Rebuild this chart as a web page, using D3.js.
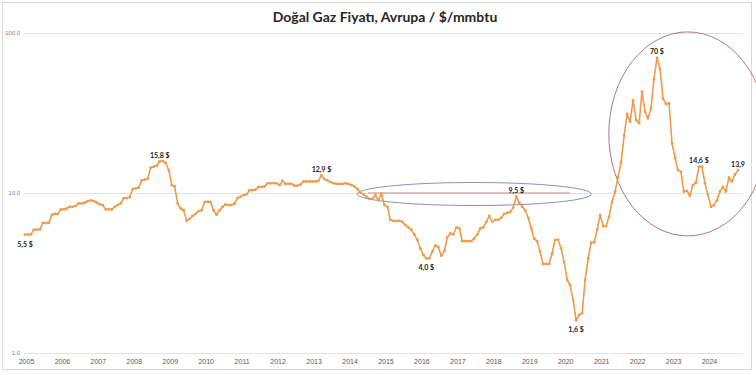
<!DOCTYPE html>
<html>
<head>
<meta charset="utf-8">
<script src="https://cdn.jsdelivr.net/npm/d3@7"></script>
<style>
  body { margin: 0; background: #fff; }
  svg { display: block; font-family: Lato, 'Open Sans', sans-serif; }
</style>
</head>
<body>
<svg width="756" height="375"></svg>
<script>
// monthly Europe natural gas price, $/mmbtu, Jan 2005 .. Nov 2024
const years = [2005, 2006, 2007, 2008, 2009, 2010, 2011, 2012, 2013, 2014,
               2015, 2016, 2017, 2018, 2019, 2020, 2021, 2022, 2023, 2024];
const prices = [
  [5.5, 5.5, 5.5, 5.9, 5.9, 5.9, 6.5, 6.5, 6.5, 7.3, 7.4, 7.4],
  [7.9, 7.9, 8.0, 8.2, 8.2, 8.3, 8.6, 8.6, 8.7, 8.9, 9.0, 8.9],
  [8.7, 8.5, 8.4, 7.9, 7.9, 7.9, 8.2, 8.4, 8.6, 9.3, 9.3, 9.4],
  [10.6, 10.7, 10.8, 12.0, 12.1, 12.3, 14.4, 14.6, 14.8, 15.8, 15.8, 15.4],
  [13.9, 11.2, 11.0, 8.6, 8.0, 7.8, 6.7, 6.9, 7.2, 7.4, 7.7, 7.8],
  [8.8, 8.8, 8.8, 7.8, 7.3, 7.8, 8.2, 8.5, 8.4, 8.4, 8.6, 9.3],
  [9.5, 9.7, 9.8, 10.4, 10.4, 10.5, 10.9, 10.9, 11.0, 11.5, 11.5, 11.5],
  [11.5, 11.2, 11.9, 11.4, 11.4, 11.4, 11.1, 11.1, 11.3, 11.8, 11.8, 11.8],
  [11.8, 11.8, 11.9, 12.9, 12.2, 12.0, 11.7, 11.5, 11.4, 11.4, 11.4, 11.5],
  [11.4, 11.2, 11.0, 10.6, 10.1, 9.8, 9.5, 9.2, 9.2, 9.7, 9.0, 9.9],
  [8.4, 8.2, 6.8, 6.7, 6.7, 6.7, 6.6, 6.3, 6.1, 5.9, 5.5, 5.1],
  [4.5, 4.1, 3.9, 3.9, 4.3, 4.7, 4.6, 4.05, 4.35, 5.3, 5.6, 5.5],
  [6.1, 6.0, 5.0, 5.0, 5.0, 5.0, 5.2, 5.5, 6.0, 6.1, 6.6, 7.2],
  [6.6, 6.8, 6.8, 7.0, 7.4, 7.5, 7.6, 8.1, 9.5, 8.7, 8.2, 7.8],
  [7.0, 6.0, 5.2, 5.0, 4.3, 3.6, 3.6, 3.6, 4.2, 5.1, 5.1, 4.5],
  [3.7, 2.86, 2.66, 2.15, 1.6, 1.73, 1.77, 2.86, 3.9, 4.9, 4.9, 5.9],
  [7.3, 6.2, 6.2, 7.1, 8.8, 10.2, 12.6, 15.5, 22.8, 31.2, 27.9, 38.0],
  [28.6, 27.3, 43.0, 32.2, 29.3, 33.8, 51.3, 70.0, 60.0, 39.0, 36.0, 36.4],
  [20.4, 16.5, 13.9, 13.6, 10.2, 10.3, 9.6, 11.2, 11.6, 14.6, 14.6, 11.5],
  [9.7, 8.2, 8.4, 9.0, 10.2, 10.9, 10.2, 12.5, 11.8, 13.0, 13.9]
];
const yTicks = [1, 10, 100];
const yTickLabels = ['1,0', '10,0', '100,0'];

// callouts: [year, month index, text]
const calloutYears = [2005, 2008, 2013, 2016, 2018, 2020, 2022, 2023, 2024];
const calloutMonths = [0, 9, 3, 2, 8, 4, 7, 9, 10];
const calloutTexts = ['5,5 $', '15,8 $', '12,9 $', '4,0 $', '9,5 $', '1,6 $', '70 $', '14,6 $', '13,9'];
const calloutBelow = [true, false, false, true, false, true, false, false, false];

const title = 'Doğal Gaz Fiyatı, Avrupa / $/mmbtu';
const lineColor = '#EE9B4C';

const svg = d3.select('svg');
const width = 756;
const height = 375;

const data = [];
years.forEach((yr, i) => {
    prices[i].forEach((v, m) => data.push({ date: new Date(yr, m, 1), value: v }));
});

const xScale = d3.scaleTime()
    .domain([new Date(2005, 0, 1), new Date(2025, 0, 1)])
    .range([25, 744]);

const yScale = d3.scaleLog()
    .domain([1, 100])
    .range([353, 33]);

// outer frame
svg.append('rect')
    .attr('x', 2.5).attr('y', 2.5)
    .attr('width', 749).attr('height', 367)
    .attr('fill', 'none')
    .attr('stroke', '#d9d9d9');

svg.append('text')
    .attr('x', 385)
    .attr('y', 22)
    .attr('text-anchor', 'middle')
    .attr('font-size', 14)
    .attr('font-weight', 'bold')
    .attr('fill', '#262626')
    .text(title);

// gridlines + y labels
const yAxis = d3.axisLeft(yScale)
    .tickValues(yTicks)
    .tickSize(-(743 - 24))
    .tickPadding(4)
    .tickFormat((d, i) => yTickLabels[i]);

const yAxisG = svg.append('g')
    .attr('transform', 'translate(24,0)')
    .call(yAxis);
yAxisG.select('.domain').remove();
yAxisG.selectAll('.tick line').attr('stroke', '#e3e3e3');
yAxisG.selectAll('.tick text')
    .attr('fill', '#7f7f7f')
    .attr('font-size', 6);

// x labels
const xAxis = d3.axisBottom(xScale)
    .tickValues(years.map(y => new Date(y, 0, 1)))
    .tickSize(0)
    .tickPadding(6)
    .tickFormat(d3.timeFormat('%Y'));

const xAxisG = svg.append('g')
    .attr('transform', 'translate(1,353)')
    .call(xAxis);
xAxisG.select('.domain').remove();
xAxisG.selectAll('.tick text')
    .attr('fill', '#595959')
    .attr('font-size', 7);

// highlight shapes
svg.append('line')
    .attr('x1', xScale(new Date(2014, 6, 15)))
    .attr('x2', xScale(new Date(2020, 2, 1)))
    .attr('y1', yScale(10))
    .attr('y2', yScale(10))
    .attr('stroke', '#c98a8a')
    .attr('stroke-width', 1.2);

svg.append('ellipse')
    .attr('cx', xScale(new Date(2017, 6, 1)))
    .attr('cy', yScale(10) + 1)
    .attr('rx', 117)
    .attr('ry', 11.5)
    .attr('fill', 'none')
    .attr('stroke', '#8a8fbf')
    .attr('stroke-width', 1);

svg.append('ellipse')
    .attr('cx', xScale(new Date(2023, 5, 10)))
    .attr('cy', yScale(23.4))
    .attr('rx', 79)
    .attr('ry', 102)
    .attr('fill', 'none')
    .attr('stroke', '#b27784')
    .attr('stroke-width', 1);

const lineGenerator = d3.line()
    .x(d => xScale(d.date))
    .y(d => yScale(d.value));

svg.append('path')
    .attr('d', lineGenerator(data))
    .attr('fill', 'none')
    .attr('stroke', lineColor)
    .attr('stroke-width', 1.6)
    .attr('stroke-linejoin', 'round');

svg.selectAll('circle.pt')
    .data(data)
    .enter().append('circle')
    .attr('class', 'pt')
    .attr('cx', d => xScale(d.date))
    .attr('cy', d => yScale(d.value))
    .attr('r', 1.4)
    .attr('fill', lineColor);

// value callouts
calloutTexts.forEach((txt, i) => {
    const yi = years.indexOf(calloutYears[i]);
    const v = prices[yi][calloutMonths[i]];
    const px = xScale(new Date(calloutYears[i], calloutMonths[i], 1));
    const py = yScale(v);
    svg.append('text')
        .attr('x', px)
        .attr('y', calloutBelow[i] ? py + 12 : py - 3.5)
        .attr('text-anchor', 'middle')
        .attr('font-size', 7)
        .attr('font-weight', 'bold')
        .attr('fill', '#1a1a1a')
        .text(txt);
});
</script>
</body>
</html>
